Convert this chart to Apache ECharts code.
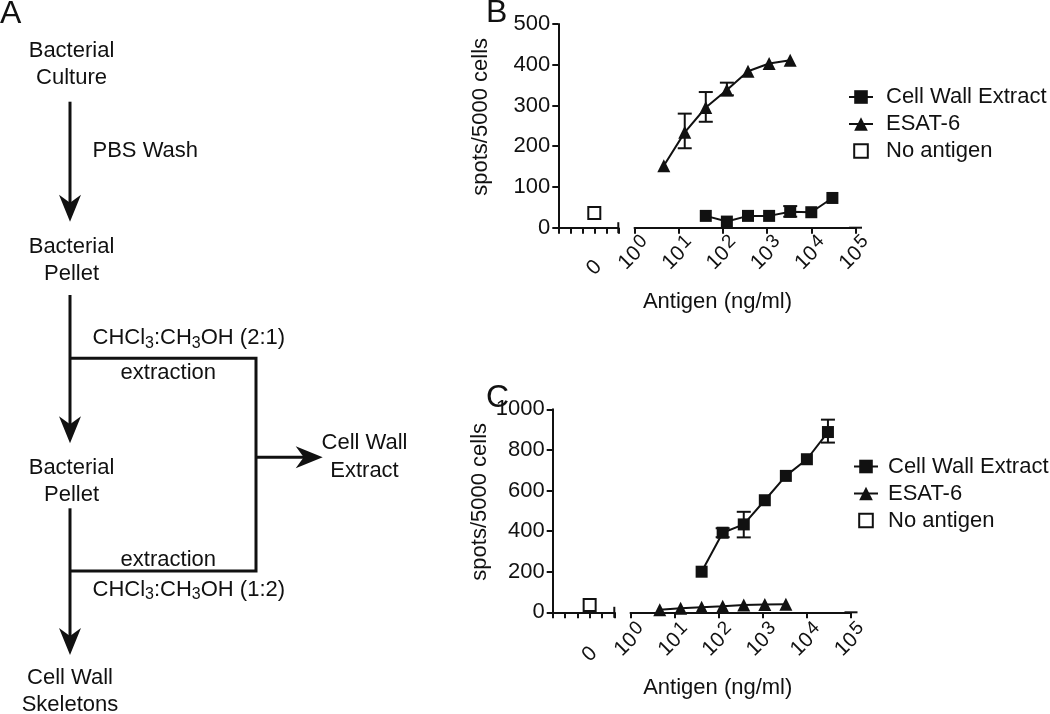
<!DOCTYPE html>
<html>
<head>
<meta charset="utf-8">
<script src="https://cdn.jsdelivr.net/npm/echarts@6/dist/echarts.min.js"></script>
<style>
html,body{margin:0;padding:0;background:#fff;}
#chart{width:1050px;height:714px;}
</style>
</head>
<body>
<div id="chart"></div>
<script>
// ---------- data ----------
const concCWE = [41, 123, 370, 1111, 3333, 10000, 30000];
const concESAT = [4.6, 13.7, 41, 123, 370, 1111, 3333];
const noAntigenPos = 3; // position on the "0" segment
const B_cwe = [29, 15, 29, 29, 39, 38, 73];
const B_esat = [152, 234, 295, 338, 384, 403, 411];
const B_none = 36;
const B_cweErr = [[3333, 27, 53]];
const B_esatErr = [[13.7, 195, 280], [41, 260, 333], [123, 325, 356]];
const C_cwe = [200, 392, 433, 552, 672, 754, 888];
const C_esat = [12, 20, 25, 30, 36, 39, 40];
const C_none = 36;
const C_cweErr = [[123, 370, 414], [370, 369, 495], [30000, 836, 949]];
const legendNames = ['Cell Wall Extract', 'ESAT-6', 'No antigen'];
const yTicksB = {min: 0, max: 500, interval: 100};
const yTicksC = {min: 0, max: 1000, interval: 200};

// ---------- styles ----------
const FF = '"Liberation Sans", Arial, Helvetica, sans-serif';
const INK = '#111';

function zip(xs, ys) { return xs.map((x, i) => [x, ys[i]]); }

function errRender(params, api) {
  const x = api.value(0), lo = api.value(1), hi = api.value(2);
  const a = api.coord([x, lo]), b = api.coord([x, hi]);
  const w = 7;
  const st = {stroke: INK, lineWidth: 2};
  return {type: 'group', children: [
    {type: 'line', shape: {x1: a[0], y1: a[1], x2: b[0], y2: b[1]}, style: st},
    {type: 'line', shape: {x1: a[0] - w, y1: a[1], x2: a[0] + w, y2: a[1]}, style: st},
    {type: 'line', shape: {x1: b[0] - w, y1: b[1], x2: b[0] + w, y2: b[1]}, style: st}
  ]};
}

const axisCommon = {
  axisTick: {show: true, length: 6, lineStyle: {color: INK, width: 2}},
  splitLine: {show: false}
};

function leftX(gridIndex, margin) {
  return Object.assign({}, axisCommon, {
    type: 'value', gridIndex, min: 0, max: 5, interval: 1,
    axisLine: {show: true, onZero: false, lineStyle: {color: INK, width: 2},
      symbol: ['none', 'rect'], symbolSize: [11, 2]},
    axisLabel: {color: INK, fontSize: 21, fontFamily: FF, rotate: 45, margin: margin,
      align: 'center', verticalAlign: 'middle',
      formatter: v => (v === noAntigenPos ? '0' : '')}
  });
}
function rightX(gridIndex, margin, nameGap, padRight) {
  return Object.assign({}, axisCommon, {
    type: 'log', logBase: 10, gridIndex, min: 1, max: 100000,
    axisLine: {show: true, onZero: false, lineStyle: {color: INK, width: 2},
      symbol: ['none', 'rect'], symbolSize: [2, 13]},
    axisLabel: {color: INK, fontSize: 21, fontFamily: FF, rotate: 45, margin: margin, lineHeight: 27,
      align: 'center', verticalAlign: 'middle',
      formatter: v => '10{s|' + Math.round(Math.log10(v)) + '}',
      rich: {s: {fontSize: 19, lineHeight: 19, verticalAlign: 'top', fontFamily: FF, color: INK, padding: [0, 0, 0, 2]}}},
    name: 'Antigen (ng/ml)', nameLocation: 'middle', nameGap: nameGap,
    nameTextStyle: {color: INK, fontSize: 22, fontFamily: FF, padding: [0, padRight, 0, 0]}
  });
}
function leftY(gridIndex, t, nameGap) {
  return Object.assign({}, axisCommon, {
    type: 'value', gridIndex, min: t.min, max: t.max, interval: t.interval,
    axisLine: {show: true, onZero: false, lineStyle: {color: INK, width: 2}},
    axisLabel: {color: INK, fontSize: 22, fontFamily: FF, margin: 8, formatter: v => String(v)},
    name: 'spots/5000 cells', nameLocation: 'middle', nameGap: nameGap,
    nameTextStyle: {color: INK, fontSize: 22, fontFamily: FF, padding: [0, 0, 0, 18]}
  });
}
function hiddenY(gridIndex, t) {
  return {type: 'value', gridIndex, min: t.min, max: t.max, interval: t.interval, show: false};
}

function panelSeries(xl, xr, cwe, esat, none, cweErr, esatErr) {
  const lineBase = {type: 'line', xAxisIndex: xr, yAxisIndex: xr, symbolSize: 12,
    lineStyle: {color: INK, width: 2}, itemStyle: {color: INK}, z: 3};
  const s = [
    Object.assign({}, lineBase, {name: 'Cell Wall Extract', symbol: 'rect', data: zip(concCWE, cwe)}),
    Object.assign({}, lineBase, {name: 'ESAT-6', symbol: 'triangle', symbolSize: 13, data: zip(concESAT, esat)}),
    {type: 'line', name: 'No antigen', xAxisIndex: xl, yAxisIndex: xl, symbol: 'rect', symbolSize: 12,
      lineStyle: {width: 0, opacity: 0},
      itemStyle: {color: '#fff', borderColor: INK, borderWidth: 2}, data: [[noAntigenPos, none]], z: 3}
  ];
  if (cweErr.length) s.push({type: 'custom', name: 'errCWE', xAxisIndex: xr, yAxisIndex: xr,
    renderItem: errRender, encode: {x: 0, y: [1, 2]}, data: cweErr, z: 2});
  if (esatErr.length) s.push({type: 'custom', name: 'errESAT', xAxisIndex: xr, yAxisIndex: xr,
    renderItem: errRender, encode: {x: 0, y: [1, 2]}, data: esatErr, z: 2});
  return s;
}

// ---------- flowchart (panel A) ----------
function txt(t, x, y, align, extra) {
  return {type: 'text', x, y, silent: true, style: Object.assign({text: t, fill: INK, fontSize: 22,
    fontFamily: FF, align: align || 'center', verticalAlign: 'middle'}, extra || {})};
}
function chemTxt(t, x, y) {
  return txt(t, x, y, 'left', {lineHeight: 26,
    rich: {s: {fontSize: 16, lineHeight: 16, verticalAlign: 'bottom', fontFamily: FF, fill: INK}}});
}
function vline(x, y1, y2) {
  return {type: 'line', silent: true, shape: {x1: x, y1, x2: x, y2}, style: {stroke: INK, lineWidth: 3}};
}
function arrowDown(x, tip) {
  return {type: 'polygon', silent: true, shape: {points: [[x, tip], [x + 11, tip - 27], [x, tip - 19], [x - 11, tip - 27]]},
    style: {fill: INK}};
}
function panelLetter(t, x, y) {
  return {type: 'text', x, y, silent: true, style: {text: t, fill: INK, fontSize: 32, fontFamily: FF, align: 'left', verticalAlign: 'middle'}};
}
const flow = [
  panelLetter('A', 0, 14), panelLetter('B', 486, 13), panelLetter('C', 486, 398),
  txt('Bacterial', 71.5, 50.5), txt('Culture', 71.5, 77.5),
  vline(70, 101.7, 210), arrowDown(70, 221.7),
  txt('PBS Wash', 92.5, 150.7, 'left'),
  txt('Bacterial', 71.5, 247.3), txt('Pellet', 71.5, 274),
  vline(70, 295, 432), arrowDown(70, 443.3),
  {type: 'polyline', silent: true, shape: {points: [[70, 358.3], [256, 358.3], [256, 571], [70, 571]]},
    style: {stroke: INK, lineWidth: 3, fill: null}},
  chemTxt('CHCl{s|3}:CH{s|3}OH (2:1)', 92.5, 338.3),
  txt('extraction', 168.3, 373.3), txt('extraction', 168.3, 560),
  chemTxt('CHCl{s|3}:CH{s|3}OH (1:2)', 92.5, 590),
  {type: 'line', silent: true, shape: {x1: 256, y1: 457.3, x2: 310, y2: 457.3}, style: {stroke: INK, lineWidth: 3}},
  {type: 'polygon', silent: true, shape: {points: [[322.7, 457.3], [295.7, 446.3], [303.7, 457.3], [295.7, 468.3]]}, style: {fill: INK}},
  txt('Cell Wall', 364.5, 443.3), txt('Extract', 364.5, 470.7),
  txt('Bacterial', 71.5, 468.3), txt('Pellet', 71.5, 495),
  vline(70, 508.3, 644), arrowDown(70, 655),
  txt('Cell Wall', 70, 678.3), txt('Skeletons', 70, 705)
];

function legendAt(left, top, padL) {
  return {orient: 'vertical', left, top, padding: 0, itemWidth: 24, itemHeight: 17, itemGap: 5,
    selectedMode: false,
    textStyle: {color: INK, fontSize: 22, fontFamily: FF, lineHeight: 22, padding: [0, 0, 0, padL]},
    data: legendNames};
}

const option = {
  animation: false,
  backgroundColor: '#fff',
  grid: [
    {left: 558.3, top: 24, width: 60, height: 203.7, outerBoundsMode: 'none'},
    {left: 634.5, top: 24, width: 221, height: 203.7, outerBoundsMode: 'none'},
    {left: 552.7, top: 409.3, width: 61.6, height: 203, outerBoundsMode: 'none'},
    {left: 630.5, top: 409.3, width: 220.5, height: 203, outerBoundsMode: 'none'}
  ],
  xAxis: [leftX(0, 40), rightX(1, 26, 63, 55), leftX(2, 42), rightX(3, 28, 65, 46)],
  yAxis: [leftY(0, yTicksB, 66), hiddenY(1, yTicksB), leftY(2, yTicksC, 62), hiddenY(3, yTicksC)],
  legend: [legendAt(848, 86, 8), legendAt(853, 455.5, 5)],
  series: [].concat(
    panelSeries(0, 1, B_cwe, B_esat, B_none, B_cweErr, B_esatErr),
    panelSeries(2, 3, C_cwe, C_esat, C_none, C_cweErr, [])
  ),
  graphic: flow
};

const chart = echarts.init(document.getElementById('chart'), null, {renderer: 'canvas'});
chart.setOption(option);
</script>
</body>
</html>
